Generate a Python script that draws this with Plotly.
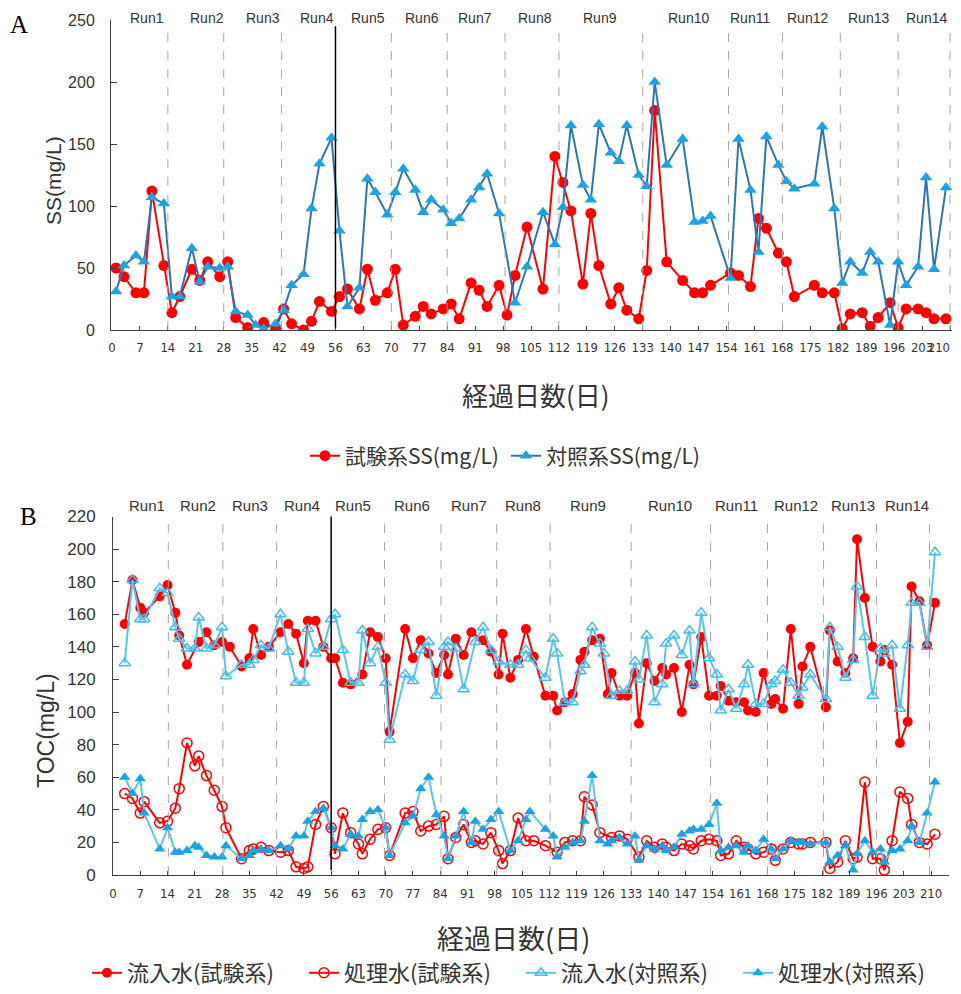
import plotly.graph_objects as go

# ---------------- Panel A : SS ----------------
ss_test_days = [1, 3, 6, 8, 10, 13, 15, 17, 20, 22, 24, 27, 29, 31, 34, 38, 41, 43, 45, 48,
                50, 52, 55, 57, 59, 62, 64, 66, 69, 71, 73, 76, 78, 80, 83, 85, 87, 90, 92, 94,
                97, 99, 101, 104, 108, 111, 113, 115, 118, 120, 122, 125, 127, 129, 132, 134, 136, 139, 143, 146,
                148, 150, 155, 157, 160, 162, 164, 167, 169, 171, 176, 178, 181, 183, 185, 188, 190, 192, 195, 197,
                199, 202, 204, 206, 209]
ss_test = [50, 43, 30, 30, 112, 52, 14, 27, 49, 40, 55, 43, 55, 10, 2, 6, 1, 17, 5, 0,
           7, 23, 15, 27, 33, 17, 49, 24, 30, 49, 4, 11, 19, 13, 17, 21, 9, 38, 32, 19,
           36, 12, 44, 83, 33, 140, 119, 96, 37, 94, 52, 21, 34, 16, 9, 48, 177, 55, 40, 30,
           30, 36, 46, 44, 35, 90, 82, 62, 55, 27, 36, 30, 30, 1, 13, 14, 3, 10, 22, 2,
           17, 17, 14, 9, 9]

ss_ctrl_days = [1, 3, 6, 8, 10, 13, 15, 17, 20, 22, 24, 27, 29, 31, 34, 36, 38, 41, 43, 45,
                48, 50, 52, 55, 57, 59, 62, 64, 66, 69, 71, 73, 76, 78, 80, 83, 85, 87, 90, 92,
                94, 97, 101, 104, 108, 111, 113, 115, 118, 120, 122, 125, 127, 129, 132, 134, 136, 139, 143, 146,
                148, 150, 155, 157, 160, 162, 164, 167, 169, 171, 176, 178, 181, 183, 185, 188, 190, 192, 195, 197,
                199, 202, 204, 206, 209]
ss_ctrl = [31, 52, 60, 55, 107, 102, 27, 27, 66, 39, 51, 50, 51, 15, 12, 4, 1, 5, 16, 36,
           45, 98, 134, 155, 80, 19, 34, 122, 111, 93, 111, 130, 113, 95, 105, 97, 86, 90, 105, 115,
           126, 94, 22, 51, 95, 69, 99, 165, 117, 105, 166, 143, 136, 165, 125, 116, 200, 133, 154, 87,
           88, 92, 42, 154, 113, 63, 156, 133, 120, 114, 118, 164, 98, 38, 55, 46, 63, 55, 4, 55,
           36, 51, 123, 49, 115]

# ---------------- Panel B : TOC ----------------
inf_test_days = [3, 5, 7, 8, 12, 14, 16, 17, 19, 22, 24, 26, 28, 30, 33, 35, 36, 38, 40, 43,
                 45, 47, 49, 50, 52, 54, 56, 57, 59, 61, 64, 66, 68, 70, 71, 75, 77, 79, 81, 83,
                 85, 86, 88, 90, 92, 95, 97, 99, 100, 102, 104, 106, 108, 111, 113, 114, 116, 118, 120, 121,
                 123, 125, 127, 128, 130, 132, 134, 135, 137, 139, 141, 142, 144, 146, 148, 149, 151, 153, 155, 156,
                 158, 160, 162, 163, 165, 167, 169, 170, 172, 174, 176, 177, 179, 183, 184, 186, 188, 190, 191, 193,
                 195, 197, 198, 200, 202, 204, 205, 207, 209, 211]
inf_test = [154, 181, 164, 161, 171, 178, 161, 147, 129, 143, 149, 141, 143, 140, 128, 133, 151, 135, 140, 149,
            154, 148, 130, 156, 156, 140, 133, 133, 118, 117, 123, 149, 146, 133, 88, 151, 133, 144, 136, 124,
            135, 123, 145, 135, 149, 144, 137, 123, 148, 121, 132, 151, 134, 110, 110, 101, 106, 111, 132, 137,
            144, 145, 111, 124, 110, 110, 124, 93, 130, 119, 127, 123, 127, 100, 129, 117, 146, 110, 110, 116,
            107, 106, 106, 101, 100, 124, 105, 108, 102, 151, 105, 128, 140, 103, 150, 131, 124, 133, 206, 170,
            140, 131, 138, 129, 81, 94, 177, 168, 141, 167]

eff_test_days = [3, 5, 7, 8, 12, 14, 16, 17, 19, 21, 22, 24, 26, 28, 29, 33, 35, 36, 38, 40,
                 43, 45, 47, 49, 50, 52, 54, 56, 57, 59, 61, 63, 64, 66, 68, 70, 71, 75, 77, 79,
                 81, 83, 85, 86, 88, 90, 92, 93, 95, 97, 99, 100, 102, 104, 106, 108, 111, 114, 116, 118,
                 120, 121, 123, 125, 128, 130, 132, 135, 137, 139, 141, 142, 144, 146, 148, 149, 151, 153, 155, 156,
                 158, 160, 162, 163, 165, 167, 169, 170, 172, 174, 176, 177, 179, 183, 184, 186, 188, 190, 191, 193,
                 195, 197, 198, 200, 202, 204, 205, 207, 209, 211]
eff_test = [50, 47, 38, 45, 32, 33, 41, 53, 81, 67, 73, 61, 52, 42, 29, 10, 15, 16, 17, 15,
            14, 15, 5, 4, 5, 31, 42, 29, 13, 38, 26, 19, 13, 22, 28, 29, 12, 38, 39, 27,
            30, 31, 36, 10, 23, 31, 20, 21, 19, 26, 15, 7, 15, 35, 21, 21, 18, 14, 20, 21,
            21, 48, 43, 26, 23, 24, 22, 11, 21, 17, 19, 17, 15, 19, 18, 16, 21, 22, 21, 12,
            13, 21, 17, 16, 13, 14, 16, 9, 16, 20, 19, 19, 20, 20, 4, 8, 21, 10, 11, 57,
            10, 10, 3, 21, 51, 47, 31, 20, 19, 25]

inf_ctrl_days = [3, 5, 7, 8, 12, 14, 16, 17, 19, 21, 22, 24, 26, 28, 29, 33, 35, 36, 38, 40,
                 43, 45, 47, 49, 50, 52, 54, 56, 57, 59, 61, 63, 64, 66, 68, 70, 71, 75, 77, 79,
                 81, 83, 85, 86, 88, 90, 93, 95, 97, 99, 102, 104, 106, 107, 111, 113, 114, 116, 118, 120,
                 121, 123, 125, 126, 128, 130, 132, 134, 135, 137, 139, 141, 142, 144, 146, 148, 149, 151, 153, 155,
                 156, 158, 160, 162, 163, 165, 167, 169, 170, 172, 174, 176, 177, 179, 183, 184, 186, 188, 190, 191,
                 193, 195, 197, 198, 200, 202, 204, 205, 207, 209, 211]
inf_ctrl = [130, 181, 157, 157, 176, 173, 152, 145, 139, 139, 158, 139, 141, 152, 122, 129, 129, 132, 141, 139,
            160, 137, 118, 118, 151, 136, 140, 157, 160, 138, 118, 118, 150, 130, 140, 118, 83, 123, 119, 138,
            143, 110, 140, 143, 139, 114, 143, 152, 138, 131, 129, 129, 138, 133, 121, 145, 136, 106, 106, 125,
            129, 152, 142, 136, 110, 113, 113, 131, 120, 147, 106, 117, 142, 147, 135, 150, 117, 161, 133, 123,
            101, 114, 102, 117, 129, 105, 105, 117, 119, 126, 118, 110, 115, 123, 108, 152, 140, 121, 132, 177,
            146, 110, 139, 136, 141, 102, 141, 167, 167, 140, 198]

eff_ctrl_days = [3, 5, 7, 8, 12, 14, 16, 17, 19, 21, 22, 24, 26, 28, 29, 33, 35, 36, 38, 40,
                 43, 45, 47, 49, 50, 52, 54, 56, 57, 59, 61, 63, 64, 66, 68, 70, 71, 75, 77, 79,
                 81, 83, 85, 86, 88, 90, 92, 93, 95, 97, 99, 102, 104, 106, 107, 111, 113, 114, 116, 118,
                 120, 121, 123, 125, 127, 128, 130, 132, 134, 135, 137, 139, 141, 142, 144, 146, 148, 149, 151, 153,
                 155, 156, 158, 160, 162, 163, 165, 167, 169, 170, 172, 174, 176, 177, 179, 183, 184, 186, 188, 190,
                 191, 193, 195, 197, 198, 200, 202, 204, 205, 207, 209, 211]
eff_ctrl = [60, 50, 59, 38, 16, 29, 14, 14, 15, 18, 17, 12, 11, 11, 18, 10, 12, 15, 16, 15,
            18, 16, 24, 24, 33, 39, 41, 29, 18, 16, 25, 24, 34, 39, 40, 29, 12, 32, 36, 53,
            60, 37, 24, 10, 24, 39, 20, 33, 28, 34, 39, 15, 21, 34, 39, 28, 24, 11, 17, 20,
            21, 33, 61, 21, 19, 21, 23, 19, 24, 9, 18, 16, 18, 15, 17, 25, 27, 28, 28, 31,
            44, 15, 17, 18, 14, 18, 15, 22, 16, 10, 16, 21, 20, 20, 19, 20, 8, 12, 18, 3,
            13, 21, 14, 16, 8, 15, 16, 21, 30, 20, 38, 57]

# ---------------- Runs / ticks ----------------
run_names = ["Run1", "Run2", "Run3", "Run4", "Run5", "Run6", "Run7",
             "Run8", "Run9", "Run10", "Run11", "Run12", "Run13", "Run14"]
run_ends_a = [14, 28, 42.5, 56, 70, 84, 98.5, 112, 133, 154.5, 168, 182.5, 197, 210]
run_ends_b = [14.2, 28.2, 42, 56, 69.7, 84.2, 98.5, 112.2, 133, 153.4, 168, 182.4, 196, 209.6]
run_label_days_a = [8.8, 23.8, 37.8, 51.4, 64.2, 77.7, 91, 106, 122.3, 144.4, 159.9, 174.4, 189.5, 204]
run_label_days_b = [8.7, 21.8, 35.2, 48.4, 61.6, 76.7, 91.4, 105.3, 122, 143, 160, 175.3, 190, 203.9]
solid_day = 56
x_tick_vals = [0, 7, 14, 21, 28, 35, 42, 49, 56, 63, 70, 77, 84, 91, 98, 105, 112, 119, 126,
               133, 140, 147, 154, 161, 168, 175, 182, 189, 196, 203, 210]
x_tick_text = [str(v) for v in x_tick_vals]
# the last label of panel A sits at the right page edge: pad it so it is not cut
x_tick_text_a = x_tick_text[:-1] + [x_tick_text[-1] + "\u2007\u2007\u2007"]

RED = "#FF0000"
BLUE_LINE = "#2E75B6"
BLUE_MK = "#1FA2E1"
LBLUE_LINE = "#5BC4EE"
LBLUE_MK = "#45BDEE"
AXIS = "#404040"
CJK = "Noto Sans CJK JP"
NARROW = "Liberation Sans Narrow, DejaVu Sans Condensed, Arial Narrow, sans-serif"
SANS = "Liberation Sans, Arial, sans-serif"
TXT = "#333333"

# The page body keeps an 8px margin, so the figure is sized to fit the 961x994 window.
PAGE_MARGIN = 8
W, H = 961 - PAGE_MARGIN, 994 - 2 * PAGE_MARGIN
def px(x): return (x - PAGE_MARGIN) / W
def py(y): return (H - (y - PAGE_MARGIN)) / H

fig = go.Figure()

# Panel A traces
fig.add_trace(go.Scatter(x=ss_test_days, y=ss_test, mode="lines+markers", name="試験系SS(mg/L)",
                         line=dict(color=RED, width=2), marker=dict(symbol="circle", size=11, color=RED),
                         xaxis="x", yaxis="y", legend="legend"))
fig.add_trace(go.Scatter(x=ss_ctrl_days, y=ss_ctrl, mode="lines+markers", name="対照系SS(mg/L)",
                         line=dict(color=BLUE_LINE, width=2),
                         marker=dict(symbol="triangle-up", size=11, color=BLUE_MK),
                         xaxis="x", yaxis="y", legend="legend"))

# Panel B traces
fig.add_trace(go.Scatter(x=inf_test_days, y=inf_test, mode="lines+markers", name="流入水(試験系)",
                         line=dict(color=RED, width=2), marker=dict(symbol="circle", size=10, color=RED),
                         xaxis="x2", yaxis="y2", legend="legend2"))
fig.add_trace(go.Scatter(x=eff_test_days, y=eff_test, mode="lines+markers", name="処理水(試験系)",
                         line=dict(color=RED, width=2),
                         marker=dict(symbol="circle-open", size=10, color=RED, line=dict(width=1.5)),
                         xaxis="x2", yaxis="y2", legend="legend2"))
fig.add_trace(go.Scatter(x=inf_ctrl_days, y=inf_ctrl, mode="lines+markers", name="流入水(対照系)",
                         line=dict(color=LBLUE_LINE, width=2),
                         marker=dict(symbol="triangle-up-open", size=10, color=LBLUE_MK, line=dict(width=1.5)),
                         xaxis="x2", yaxis="y2", legend="legend2"))
fig.add_trace(go.Scatter(x=eff_ctrl_days, y=eff_ctrl, mode="lines+markers", name="処理水(対照系)",
                         line=dict(color=LBLUE_LINE, width=2),
                         marker=dict(symbol="triangle-up", size=10, color=BLUE_MK),
                         xaxis="x2", yaxis="y2", legend="legend2"))

shapes = []
for d in run_ends_a:
    if d == solid_day:
        shapes.append(dict(type="line", xref="x", yref="y", x0=d, x1=d, y0=2, y1=245,
                           line=dict(color="#000000", width=1.5)))
    else:
        shapes.append(dict(type="line", xref="x", yref="y", x0=d, x1=d, y0=0, y1=242,
                           line=dict(color="#A6A6A6", width=1, dash="dash")))
for d in run_ends_b:
    if d == solid_day:
        shapes.append(dict(type="line", xref="x2", yref="y2", x0=d, x1=d, y0=3, y1=221,
                           line=dict(color="#000000", width=1.5)))
    else:
        shapes.append(dict(type="line", xref="x2", yref="y2", x0=d, x1=d, y0=0, y1=218,
                           line=dict(color="#A6A6A6", width=1, dash="dash")))

annotations = []
for name, d in zip(run_names, run_label_days_a):
    annotations.append(dict(x=d, y=py(18), xref="x", yref="paper", text=name, showarrow=False,
                            xanchor="center", yanchor="middle",
                            font=dict(family=SANS, size=14, color=TXT)))
for name, d in zip(run_names, run_label_days_b):
    annotations.append(dict(x=d, y=py(506), xref="x2", yref="paper", text=name, showarrow=False,
                            xanchor="center", yanchor="middle",
                            font=dict(family=SANS, size=15, color=TXT)))

def pa(x, y, text, font, angle=0):
    return dict(x=px(x), y=py(y), xref="paper", yref="paper", text=text, showarrow=False,
                xanchor="center", yanchor="middle", textangle=angle, font=font)

annotations += [
    pa(19, 24, "A", dict(family="Liberation Serif, serif", size=25, color="#000")),
    pa(28, 517, "B", dict(family="Liberation Serif, serif", size=25, color="#000")),
    pa(536, 394, "経過日数(日)", dict(family=CJK, size=26, color=TXT)),
    pa(513, 937, "経過日数(日)", dict(family=CJK, size=27, color=TXT)),
    pa(53, 181, "SS(mg/L)", dict(family=SANS, size=21, color=TXT), -90),
    pa(46, 731, "TOC(mg/L)", dict(family=SANS, size=23, color=TXT), -90),
]

axis_common = dict(showline=True, linecolor=AXIS, linewidth=1, showgrid=False, zeroline=False,
                   ticks="inside", tickcolor=AXIS, mirror=False, ticklabeloverflow="allow")

fig.update_layout(
    width=W, height=H, autosize=False,
    margin=dict(l=0, r=0, t=0, b=0, pad=0, autoexpand=False),
    paper_bgcolor="white", plot_bgcolor="white",
    xaxis=dict(domain=[px(111), px(952)], range=[-0.25, 210.5], anchor="y",
               tickvals=x_tick_vals, ticktext=x_tick_text_a, tickangle=0, ticklen=4, ticklabelstandoff=5,
               tickfont=dict(family=NARROW, size=13, color=TXT), **axis_common),
    yaxis=dict(domain=[py(330), py(20)], range=[0, 250], anchor="x", dtick=50, ticklen=6,
               ticklabelstandoff=12, tickfont=dict(family=SANS, size=16, color=TXT), **axis_common),
    xaxis2=dict(domain=[px(113), px(949)], range=[0, 214.6], anchor="y2",
                tickvals=x_tick_vals, ticktext=x_tick_text, tickangle=0, ticklen=4, ticklabelstandoff=6,
                tickfont=dict(family=NARROW, size=13, color=TXT), **axis_common),
    yaxis2=dict(domain=[py(875), py(516.5)], range=[0, 220], anchor="x2", dtick=20, ticklen=6,
                ticklabelstandoff=13, tickfont=dict(family=SANS, size=17, color=TXT), **axis_common),
    legend=dict(orientation="h", x=px(305), xanchor="left", y=py(456), yanchor="middle",
                entrywidth=156, entrywidthmode="pixels",
                font=dict(family=CJK, size=21, color=TXT), bgcolor="rgba(0,0,0,0)"),
    legend2=dict(orientation="h", x=px(87), xanchor="left", y=py(973), yanchor="middle",
                 entrywidth=172, entrywidthmode="pixels",
                 font=dict(family=CJK, size=22, color=TXT), bgcolor="rgba(0,0,0,0)"),
    shapes=shapes, annotations=annotations, showlegend=True,
)

fig.write_html("out.html", config={"displayModeBar": False})
